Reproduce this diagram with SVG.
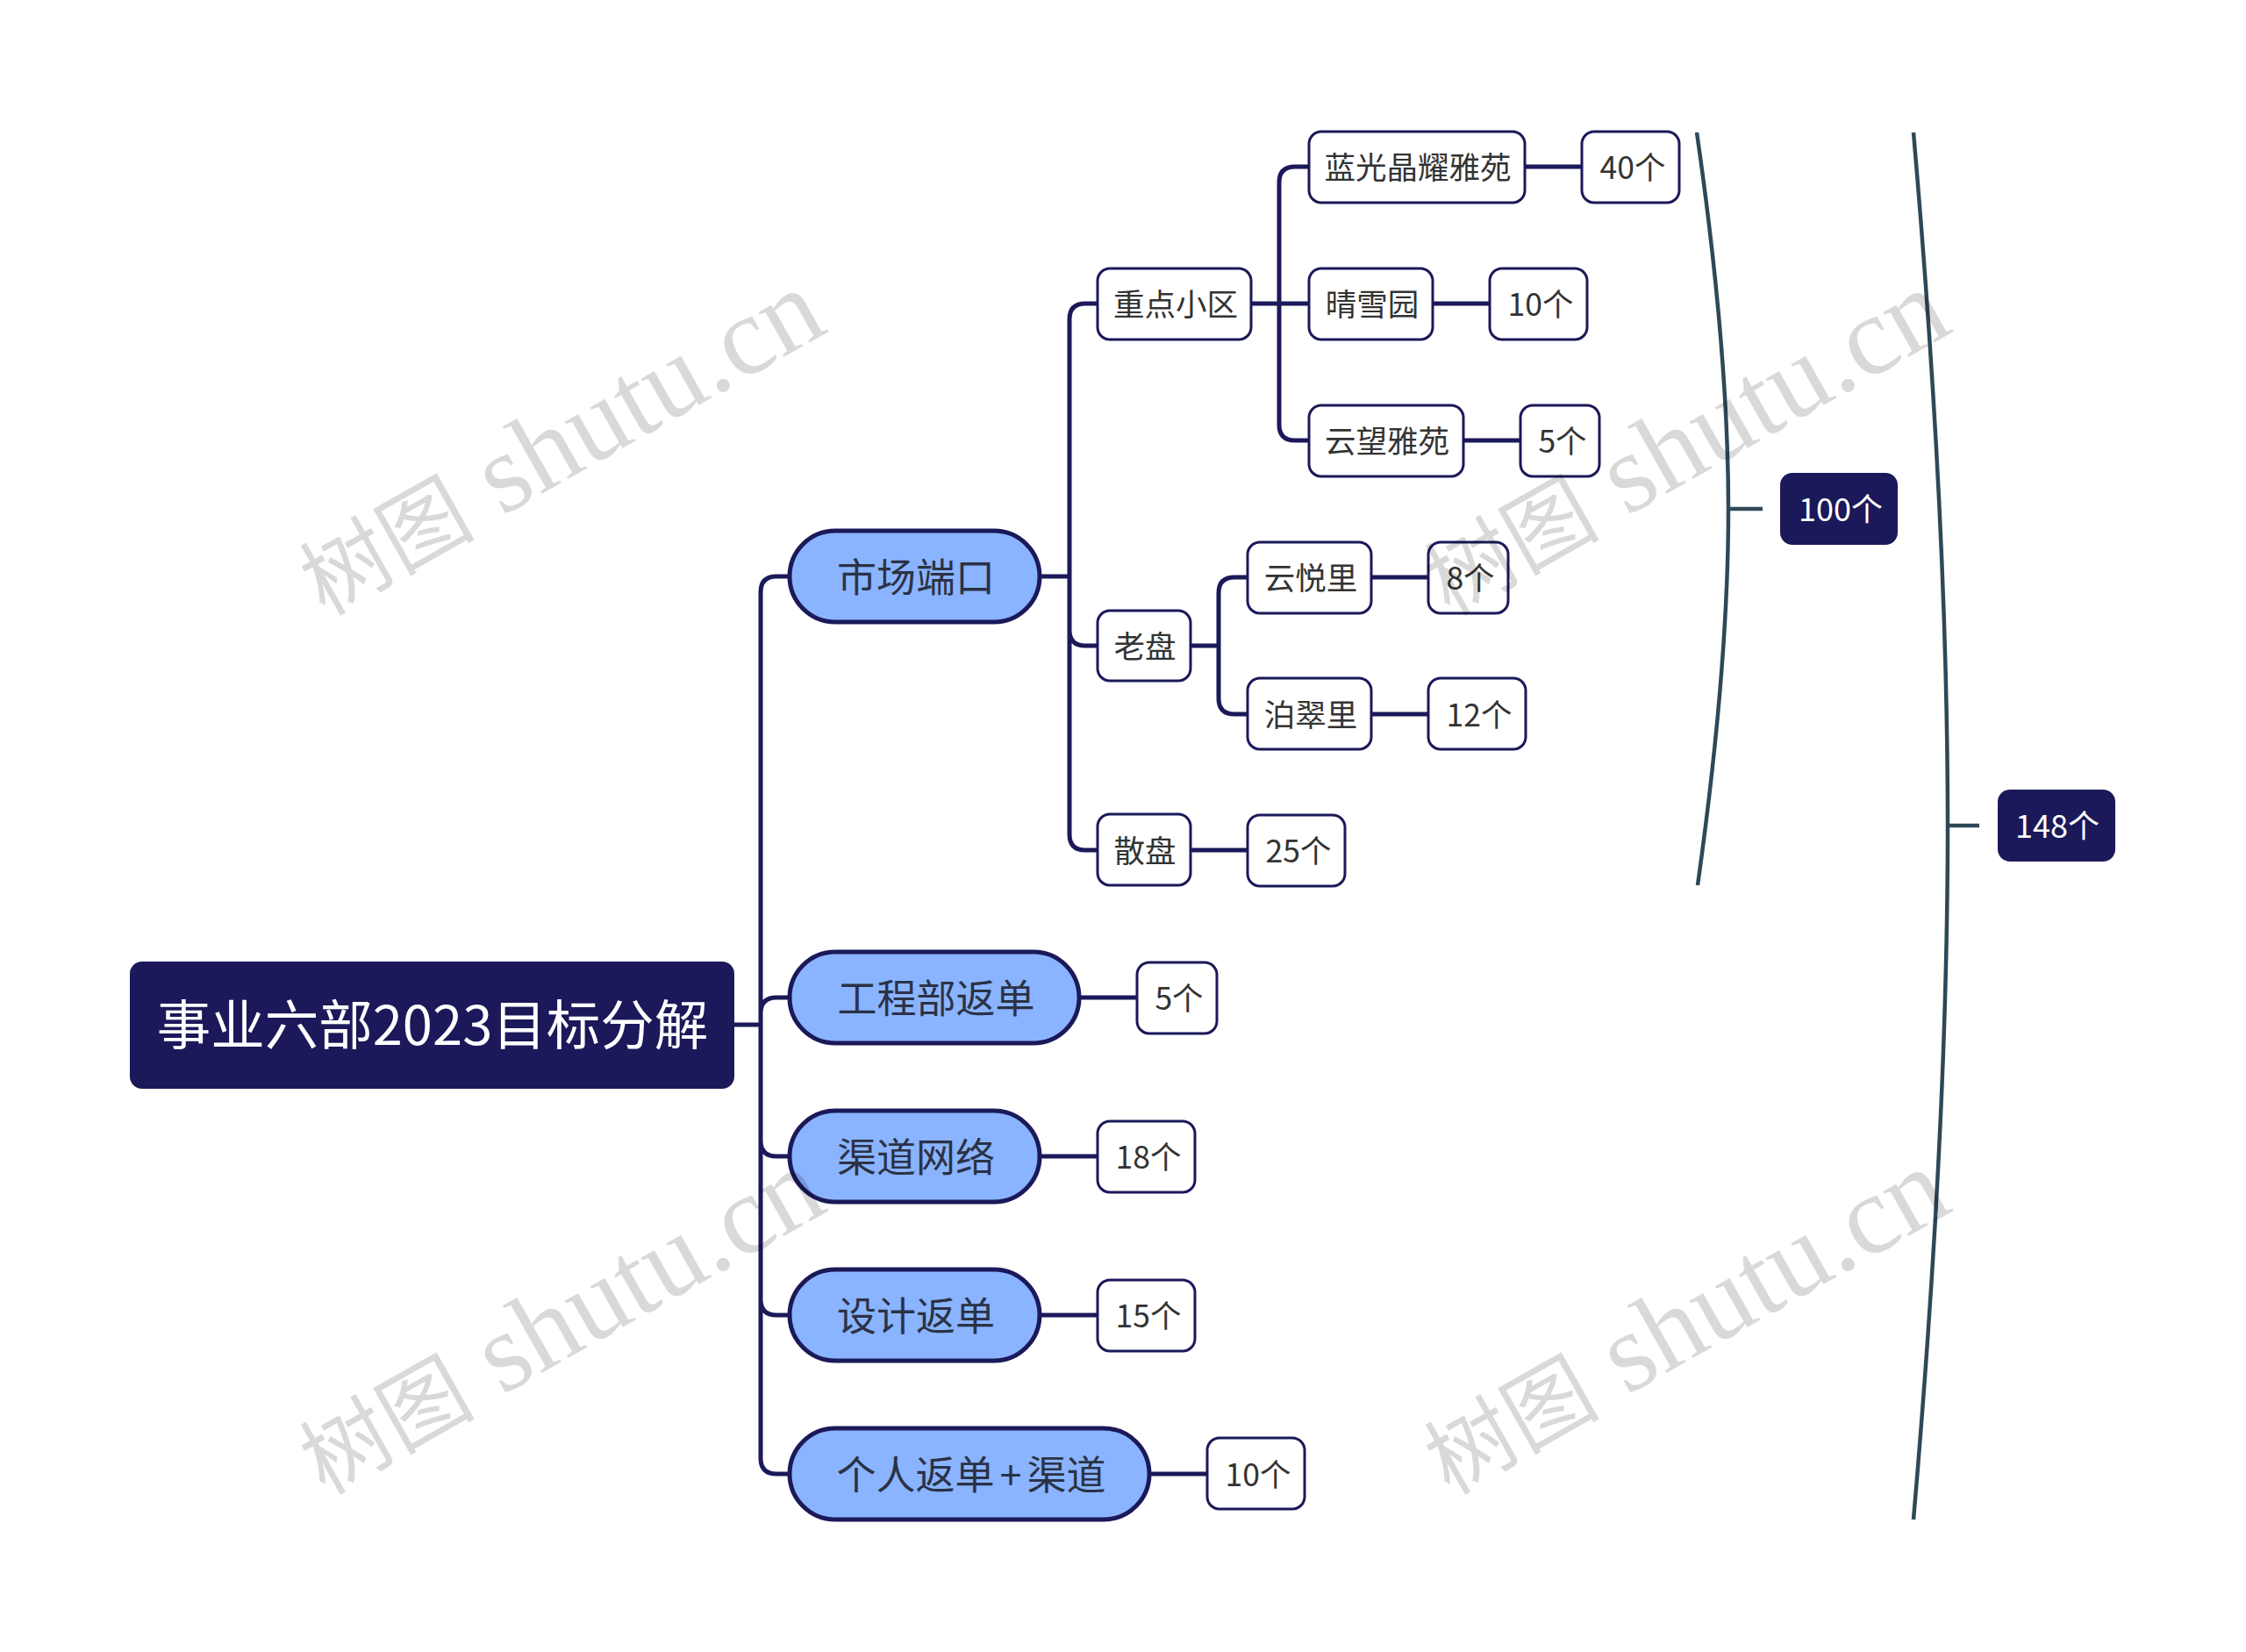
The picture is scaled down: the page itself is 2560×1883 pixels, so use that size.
<svg xmlns="http://www.w3.org/2000/svg" width="2560" height="1883" viewBox="0 0 2560 1883">
<style>
.b{fill:#fff;stroke:#1b1959;stroke-width:3}
.p{fill:#8ab4ff;stroke:#1b1959;stroke-width:5}
.r{fill:#1b1959}
text{font-family:"Noto Sans CJK SC","Noto Sans",sans-serif;text-anchor:middle;dominant-baseline:central}
.t3{font-size:35.5px;fill:#333}
.t2{font-size:45px;fill:#2b3245}
.w{font-size:36px;fill:#fff}
.wm{font-family:"Liberation Serif","Noto Sans CJK SC",serif;font-size:128px;fill:#000;fill-opacity:.15;text-anchor:start;dominant-baseline:auto}
.wc{font-size:100px;font-family:"Noto Sans CJK SC",serif}
.c{fill:none;stroke:#1b1959;stroke-width:5}
.s{fill:none;stroke:#2f4858;stroke-width:4.5}
</style>
<rect width="2560" height="1883" fill="#fff"/>
<g id="connectors">
<path class="c" d="M837 1168H867M900 657H885Q867 657 867 675V1662Q867 1680 885 1680H900M867 1155Q867 1137 885 1137H900M867 1300Q867 1318 885 1318H900M867 1481Q867 1499 885 1499H900"/>
<path class="c" d="M1186 657H1219M1252 346H1237Q1219 346 1219 364V951Q1219 969 1237 969H1252M1219 718Q1219 736 1237 736H1252"/>
<path class="c" d="M1427 346H1491M1491 190H1476Q1458 190 1458 208V484Q1458 502 1476 502H1491"/>
<path class="c" d="M1358 736H1389M1422 658H1407Q1389 658 1389 676V796Q1389 814 1407 814H1422"/>
<path class="c" d="M1737 190H1803M1632 346H1697M1667 502H1733M1564 658H1628M1564 814H1628M1358 969H1422"/>
<path class="c" d="M1230 1137H1296M1186 1318H1251M1186 1499H1251M1310 1680H1376"/>
<path class="s" d="M1934 151Q1970 400 1970 580Q1970 760 1935 1009M1970 580H2009"/>
<path class="s" d="M2181 151Q2220 600 2220 941Q2220 1280 2181 1732M2220 941H2256"/>
</g>
<g id="root"><rect class="r" x="148" y="1096" width="689" height="145" rx="14"/><text x="493" y="1164" font-size="61.5" fill="#fff">事业六部2023目标分解</text></g>
<g id="n-market"><rect class="p" x="900" y="605" width="285" height="104" rx="52"/><text class="t2" x="1044" y="655">市场端口</text></g>
<g id="n-eng"><rect class="p" x="900" y="1085" width="330" height="104" rx="52"/><text class="t2" x="1067" y="1135">工程部返单</text></g>
<g id="n-channel"><rect class="p" x="900" y="1266" width="285" height="104" rx="52"/><text class="t2" x="1044" y="1316">渠道网络</text></g>
<g id="n-design"><rect class="p" x="900" y="1447" width="285" height="104" rx="52"/><text class="t2" x="1044" y="1497">设计返单</text></g>
<g id="n-personal"><rect class="p" x="900" y="1628" width="410" height="104" rx="52"/><text class="t2" x="1107" y="1678">个人返单<tspan dx="6">+</tspan><tspan dx="6">渠道</tspan></text></g>
<g id="n-key"><rect class="b" x="1251" y="306" width="175" height="81" rx="14"/><text class="t3" x="1340" y="344">重点小区</text></g>
<g id="n-old"><rect class="b" x="1251" y="696" width="106" height="80" rx="14"/><text class="t3" x="1305" y="734">老盘</text></g>
<g id="n-loose"><rect class="b" x="1251" y="928" width="106" height="81" rx="14"/><text class="t3" x="1305" y="967">散盘</text></g>
<g id="n-a"><rect class="b" x="1492" y="150" width="246" height="81" rx="14"/><text class="t3" x="1616" y="188">蓝光晶耀雅苑</text></g>
<g id="n-a1"><rect class="b" x="1803" y="150" width="111" height="81" rx="14"/><text class="t3" x="1861" y="188">40个</text></g>
<g id="n-b"><rect class="b" x="1492" y="306" width="141" height="81" rx="14"/><text class="t3" x="1564" y="344">晴雪园</text></g>
<g id="n-b1"><rect class="b" x="1698" y="306" width="111" height="81" rx="14"/><text class="t3" x="1756" y="344">10个</text></g>
<g id="n-c"><rect class="b" x="1492" y="462" width="176" height="81" rx="14"/><text class="t3" x="1581" y="500">云望雅苑</text></g>
<g id="n-c1"><rect class="b" x="1733" y="462" width="90" height="81" rx="14"/><text class="t3" x="1781" y="500">5个</text></g>
<g id="n-d"><rect class="b" x="1422" y="618" width="141" height="81" rx="14"/><text class="t3" x="1494" y="656">云悦里</text></g>
<g id="n-d1"><rect class="b" x="1628" y="618" width="91" height="81" rx="14"/><text class="t3" x="1676" y="656">8个</text></g>
<g id="n-e"><rect class="b" x="1422" y="773" width="141" height="81" rx="14"/><text class="t3" x="1494" y="812">泊翠里</text></g>
<g id="n-e1"><rect class="b" x="1628" y="773" width="111" height="81" rx="14"/><text class="t3" x="1686" y="812">12个</text></g>
<g id="n-f"><rect class="b" x="1422" y="929" width="111" height="81" rx="14"/><text class="t3" x="1480" y="967">25个</text></g>
<g id="n-g"><rect class="b" x="1296" y="1097" width="91" height="81" rx="14"/><text class="t3" x="1344" y="1135">5个</text></g>
<g id="n-h"><rect class="b" x="1251" y="1278" width="111" height="81" rx="14"/><text class="t3" x="1309" y="1316">18个</text></g>
<g id="n-i"><rect class="b" x="1251" y="1459" width="111" height="81" rx="14"/><text class="t3" x="1309" y="1497">15个</text></g>
<g id="n-j"><rect class="b" x="1376" y="1639" width="111" height="81" rx="14"/><text class="t3" x="1434" y="1678">10个</text></g>
<g id="s-100"><rect class="r" x="2029" y="539" width="134" height="82" rx="14"/><text class="w" x="2098" y="578">100个</text></g>
<g id="s-148"><rect class="r" x="2277" y="900" width="134" height="82" rx="14"/><text class="w" x="2345" y="939">148个</text></g>
<g id="watermarks">
<text class="wm" transform="translate(370 703) rotate(-29.5)"><tspan class="wc">树图</tspan> shutu.cn</text>
<text class="wm" transform="translate(1652 703) rotate(-29.5)"><tspan class="wc">树图</tspan> shutu.cn</text>
<text class="wm" transform="translate(370 1705) rotate(-29.5)"><tspan class="wc">树图</tspan> shutu.cn</text>
<text class="wm" transform="translate(1652 1705) rotate(-29.5)"><tspan class="wc">树图</tspan> shutu.cn</text>
</g>
</svg>
